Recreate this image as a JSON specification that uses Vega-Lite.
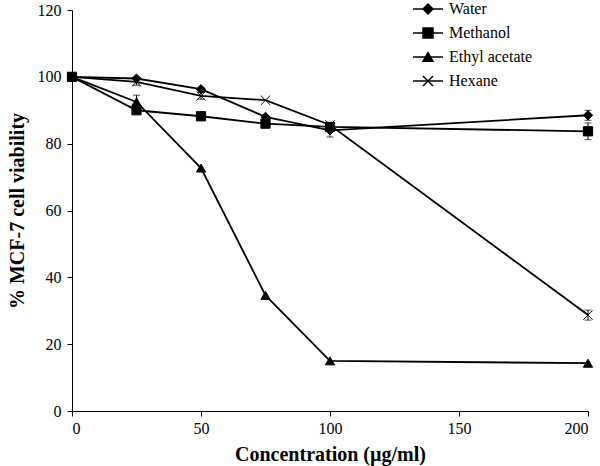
{
  "$schema": "https://vega.github.io/schema/vega-lite/v6.json",
  "width": 516,
  "height": 401,
  "autosize": "none",
  "padding": {"left": 72, "top": 10, "right": 12, "bottom": 55},
  "background": "white",
  "config": {
    "view": {"stroke": null},
    "font": "Liberation Serif",
    "axis": {
      "grid": false,
      "domainColor": "black",
      "domainWidth": 1,
      "tickColor": "black",
      "tickSize": 5,
      "labelFont": "Liberation Serif",
      "labelFontSize": 16,
      "labelColor": "black",
      "titleFont": "Liberation Serif",
      "titleFontSize": 20,
      "titleFontWeight": "bold",
      "titleColor": "black"
    },
    "legend": {
      "orient": "none",
      "legendX": 348,
      "legendY": -9,
      "padding": 0,
      "labelOffset": 13,
      "labelFont": "Liberation Serif",
      "labelFontSize": 16,
      "labelColor": "black",
      "rowPadding": 8,
      "symbolSize": 100
    }
  },
  "data": {
    "values": [
      {"series": "Water", "conc": 0, "v": 100, "lo": 100, "hi": 100},
      {"series": "Water", "conc": 25, "v": 99.5, "lo": 99.5, "hi": 99.5},
      {"series": "Water", "conc": 50, "v": 96.3, "lo": 96.3, "hi": 96.3},
      {"series": "Water", "conc": 75, "v": 88, "lo": 88, "hi": 88},
      {"series": "Water", "conc": 100, "v": 84, "lo": 82, "hi": 86},
      {"series": "Water", "conc": 200, "v": 88.5, "lo": 87, "hi": 90},
      {"series": "Methanol", "conc": 0, "v": 100, "lo": 100, "hi": 100},
      {"series": "Methanol", "conc": 25, "v": 90, "lo": 90, "hi": 90},
      {"series": "Methanol", "conc": 50, "v": 88.2, "lo": 88.2, "hi": 88.2},
      {"series": "Methanol", "conc": 75, "v": 86, "lo": 86, "hi": 86},
      {"series": "Methanol", "conc": 100, "v": 85, "lo": 85, "hi": 85},
      {"series": "Methanol", "conc": 200, "v": 83.7, "lo": 81.2, "hi": 86.2},
      {"series": "Ethyl acetate", "conc": 0, "v": 100, "lo": 100, "hi": 100},
      {"series": "Ethyl acetate", "conc": 25, "v": 92.5, "lo": 90.5, "hi": 94.5},
      {"series": "Ethyl acetate", "conc": 50, "v": 72.7, "lo": 72.7, "hi": 72.7},
      {"series": "Ethyl acetate", "conc": 75, "v": 34.6, "lo": 34.6, "hi": 34.6},
      {"series": "Ethyl acetate", "conc": 100, "v": 15, "lo": 15, "hi": 15},
      {"series": "Ethyl acetate", "conc": 200, "v": 14.3, "lo": 14.3, "hi": 14.3},
      {"series": "Hexane", "conc": 0, "v": 100, "lo": 100, "hi": 100},
      {"series": "Hexane", "conc": 25, "v": 98.5, "lo": 97.5, "hi": 99.5},
      {"series": "Hexane", "conc": 50, "v": 94.3, "lo": 93.3, "hi": 95.3},
      {"series": "Hexane", "conc": 75, "v": 93, "lo": 93, "hi": 93},
      {"series": "Hexane", "conc": 100, "v": 85.6, "lo": 85.6, "hi": 85.6},
      {"series": "Hexane", "conc": 200, "v": 28.7, "lo": 27.2, "hi": 30.2}
    ]
  },
  "encoding": {
    "x": {
      "field": "conc",
      "type": "quantitative",
      "scale": {"domain": [0, 200], "nice": false, "zero": false},
      "axis": {"values": [0, 50, 100, 150, 200], "title": "Concentration (µg/ml)", "labelFont": "Liberation Serif", "labelFontSize": 16, "labelPadding": 4, "titlePadding": 8}
    }
  },
  "layer": [
    {
      "transform": [{"filter": "datum.hi > datum.lo"}],
      "mark": {"type": "errorbar", "color": "black", "thickness": 1, "ticks": {"size": 7, "thickness": 1, "color": "black"}},
      "encoding": {
        "y": {"field": "lo", "type": "quantitative", "scale": {"domain": [0, 120], "nice": false}, "title": "% MCF-7 cell viability"},
        "y2": {"field": "hi"}
      }
    },
    {
      "mark": {"type": "line", "strokeWidth": 1.8},
      "encoding": {
        "y": {
          "field": "v",
          "type": "quantitative",
          "scale": {"domain": [0, 120], "nice": false},
          "axis": {"values": [0, 20, 40, 60, 80, 100, 120], "title": "% MCF-7 cell viability", "labelFont": "Liberation Serif", "labelFontSize": 16, "labelPadding": 6, "titlePadding": 10}
        },
        "color": {
          "field": "series",
          "type": "nominal",
          "sort": ["Water", "Methanol", "Ethyl acetate", "Hexane"],
          "scale": {"range": ["black", "black", "black", "black"]},
          "legend": {
            "title": null,
            "symbolType": "M-3,0H3",
            "labelOpacity": 0,
            "symbolStrokeWidth": 1.5,
            "symbolStrokeColor": "black"
          }
        }
      }
    },
    {
      "mark": {"type": "point", "filled": true, "color": "black", "stroke": "black", "strokeWidth": 1, "opacity": 1, "size": 85},
      "encoding": {
        "y": {"field": "v", "type": "quantitative", "title": "% MCF-7 cell viability"},
        "shape": {
          "field": "series",
          "type": "nominal",
          "scale": {
            "domain": ["Water", "Methanol", "Ethyl acetate", "Hexane"],
            "range": ["diamond", "square", "triangle-up", "M-1,-1L1,1M-1,1L1,-1"]
          },
          "legend": {
            "title": null,
            "encode": {
              "symbols": {
                "update": {
                  "size": {"value": 75},
                  "stroke": {"value": "black"},
                  "fill": {"value": "black"},
                  "strokeWidth": {"value": 1},
                  "opacity": {"value": 1}
                }
              }
            }
          }
        }
      }
    }
  ]
}
